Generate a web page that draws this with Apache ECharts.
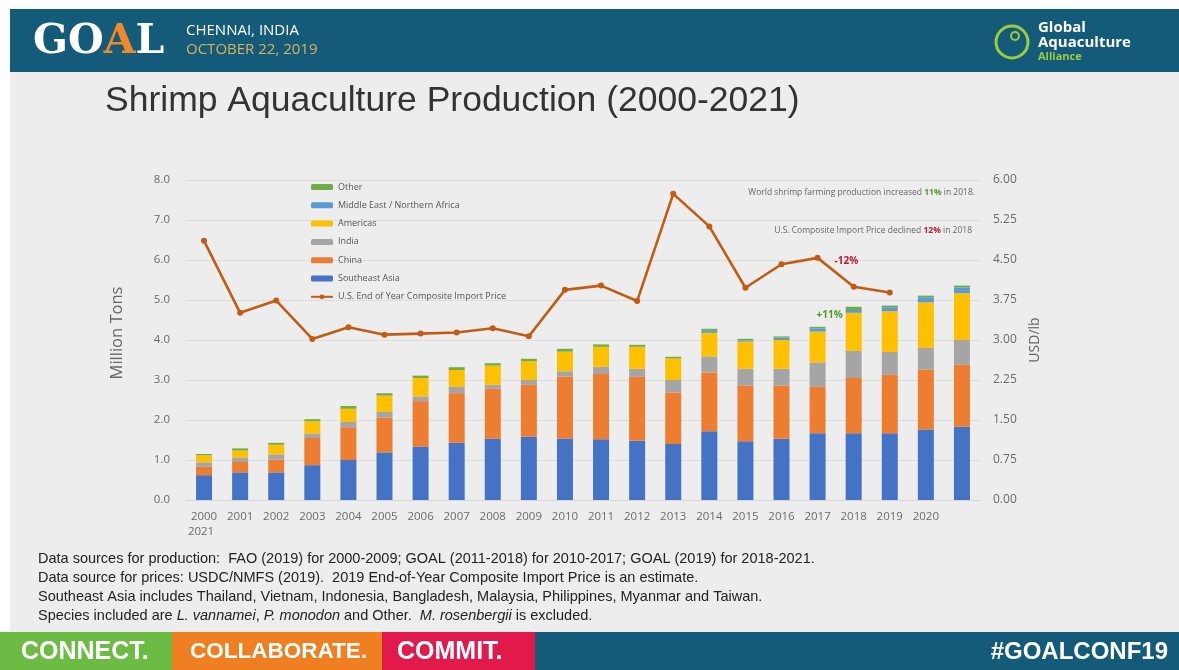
<!DOCTYPE html>
<html>
<head>
<meta charset="utf-8">
<script src="https://cdn.jsdelivr.net/npm/echarts@6/dist/echarts.min.js"></script>
<style>
html,body{margin:0;padding:0;background:#fff;}
#c{width:1179px;height:670px;}
</style>
</head>
<body>
<div id="c"></div>
<script>
// ---- data ----
const years = ['2000','2001','2002','2003','2004','2005','2006','2007','2008','2009','2010','2011','2012','2013','2014','2015','2016','2017','2018','2019','2020','2021'];
const southeastAsia = [0.62,0.69,0.69,0.87,1.00,1.19,1.33,1.43,1.53,1.58,1.54,1.52,1.48,1.40,1.72,1.47,1.53,1.67,1.67,1.67,1.76,1.83];
const china         = [0.21,0.26,0.32,0.68,0.82,0.87,1.14,1.24,1.25,1.30,1.55,1.63,1.60,1.29,1.47,1.39,1.33,1.16,1.38,1.46,1.50,1.55];
const india         = [0.11,0.11,0.13,0.11,0.13,0.14,0.12,0.16,0.10,0.12,0.13,0.18,0.20,0.31,0.40,0.42,0.42,0.61,0.68,0.57,0.54,0.62];
const americas      = [0.18,0.18,0.24,0.31,0.33,0.41,0.46,0.42,0.48,0.47,0.49,0.50,0.55,0.54,0.59,0.68,0.72,0.77,0.95,1.02,1.14,1.17];
const middleEast    = [0,0,0,0,0,0,0,0,0,0,0,0,0,0,0.05,0.03,0.06,0.08,0.07,0.10,0.13,0.14];
const other         = [0.03,0.05,0.05,0.05,0.07,0.06,0.06,0.07,0.06,0.06,0.07,0.06,0.05,0.04,0.05,0.04,0.03,0.04,0.08,0.04,0.04,0.05];
const importPrice   = [4.86,3.51,3.74,3.02,3.24,3.10,3.12,3.14,3.22,3.07,3.94,4.02,3.73,5.74,5.13,3.98,4.42,4.54,4.00,3.89,null,null];
const leftTicks = {min:0, max:8, interval:1};
const rightTicks = {min:0, max:6, interval:0.75};
const footnotes = [
  '{n|Data sources for production:  FAO (2019) for 2000-2009; GOAL (2011-2018) for 2010-2017; GOAL (2019) for 2018-2021.}',
  '{n|Data source for prices: USDC/NMFS (2019).  2019 End-of-Year Composite Import Price is an estimate.}',
  '{n|Southeast Asia includes Thailand, Vietnam, Indonesia, Bangladesh, Malaysia, Philippines, Myanmar and Taiwan.}',
  '{n|Species included are }{i|L. vannamei}{n|, }{i|P. monodon}{n| and Other.  }{i|M. rosenbergii}{n| is excluded.}'
];

const FONT = "'Open Sans', 'Liberation Sans', sans-serif";
const SANS = "'Liberation Sans', sans-serif";
const tickColor = '#6a6a6a';

const chart = echarts.init(document.getElementById('c'), null, {renderer:'canvas'});

function barSeries(name, data, color){
  return {name, type:'bar', stack:'prod', data, barWidth:16, itemStyle:{color}, emphasis:{disabled:true}, animation:false};
}

const option = {
  animation:false,
  backgroundColor:'#ffffff',
  textStyle:{fontFamily:FONT},
  grid:{left:186, right:199, top:180, bottom:170, containLabel:false},
  legend:{
    left:305, top:177, orient:'vertical', itemGap:8.3, itemWidth:22, itemHeight:6,
    textStyle:{fontSize:9, color:'#555', lineHeight:10, fontFamily:FONT},
    data:['Other','Middle East / Northern Africa','Americas','India','China','Southeast Asia','U.S. End of Year Composite Import Price']
  },
  xAxis:{
    type:'category', data:years,
    axisLine:{show:true, lineStyle:{color:'#d6d6d6'}}, axisTick:{show:false},
    axisLabel:{color:tickColor, fontSize:11.5, margin:9, lineHeight:15, interval:0,
      formatter:(v)=> v==='2000' ? '2000\n{l|2021}' : (v==='2021' ? '' : v),
      rich:{l:{color:tickColor, fontSize:11.5, align:'left', padding:[0,0,0,-3]}}}
  },
  yAxis:[
    {type:'value', min:leftTicks.min, max:leftTicks.max, interval:leftTicks.interval,
     name:'Million Tons', nameLocation:'middle', nameRotate:90, nameGap:60,
     nameTextStyle:{fontSize:16.5, color:'#666', padding:[0,0,0,14]},
     axisLabel:{color:tickColor, fontSize:11.5, margin:16, formatter:(v)=>v.toFixed(1)},
     splitLine:{lineStyle:{color:'#dcdcdc'}}, axisLine:{show:false}, axisTick:{show:false}},
    {type:'value', min:rightTicks.min, max:rightTicks.max, interval:rightTicks.interval,
     name:'USD/lb', nameLocation:'middle', nameRotate:90, nameGap:46,
     nameTextStyle:{fontSize:14, color:'#666'},
     axisLabel:{color:tickColor, fontSize:12, margin:13, formatter:(v)=>v.toFixed(2)},
     splitLine:{show:false}, axisLine:{show:false}, axisTick:{show:false}}
  ],
  series:[
    barSeries('Southeast Asia', southeastAsia, '#4472c4'),
    barSeries('China', china, '#ed7d31'),
    barSeries('India', india, '#a5a5a5'),
    barSeries('Americas', americas, '#ffc000'),
    barSeries('Middle East / Northern Africa', middleEast, '#5b9bd5'),
    barSeries('Other', other, '#70ad47'),
    {name:'U.S. End of Year Composite Import Price', type:'line', yAxisIndex:1, data:importPrice,
     symbol:'circle', symbolSize:6, connectNulls:false,
     lineStyle:{color:'#c55a11', width:2.6}, itemStyle:{color:'#c55a11'}, z:5}
  ]
};
chart.setOption(option);

// ---- decorations (slide frame, header, footer, notes) ----
const totals = years.map((_,i)=> southeastAsia[i]+china[i]+india[i]+americas[i]+middleEast[i]+other[i]);
const p2018 = chart.convertToPixel({xAxisIndex:0, yAxisIndex:0}, ['2018', totals[18]]);
const p2017 = chart.convertToPixel({xAxisIndex:0, yAxisIndex:1}, ['2017', importPrice[17]]);

const gfx = [
  {type:'rect', shape:{x:10,y:9,width:1169,height:661}, style:{fill:'#ededed'}, z:-10, silent:true},
  {type:'rect', shape:{x:10,y:9,width:1169,height:63}, style:{fill:'#135b79'}, z:-5},
  // GOAL logo text
  {type:'text', x:33, y:42, style:{text:'{w|GO}{a|A}{w|L}', verticalAlign:'middle',
    rich:{w:{fontSize:41, fontWeight:'bold', fill:'#ffffff', fontFamily:"'DejaVu Serif', serif"},
          a:{fontSize:41, fontWeight:'bold', fill:'#f0892b', fontFamily:"'DejaVu Serif', serif"}}}},
  {type:'text', x:186, y:31, style:{text:'CHENNAI, INDIA', fill:'#ffffff', fontSize:15, fontFamily:FONT, verticalAlign:'middle'}},
  {type:'text', x:186, y:50, style:{text:'OCTOBER 22, 2019', fill:'#d9b45c', fontSize:15, fontFamily:FONT, verticalAlign:'middle'}},
  // GAA logo
  {type:'circle', shape:{cx:1012, cy:42, r:16}, style:{fill:'none', stroke:'#9ccd3c', lineWidth:3}},
  {type:'circle', shape:{cx:1015, cy:36, r:4}, style:{fill:'none', stroke:'#9ccd3c', lineWidth:2}},
  {type:'text', x:1038, y:28, style:{text:'Global', fill:'#ffffff', fontSize:15, fontWeight:'bold', fontFamily:FONT, verticalAlign:'middle'}},
  {type:'text', x:1038, y:43, style:{text:'Aquaculture', fill:'#ffffff', fontSize:15, fontWeight:'bold', fontFamily:FONT, verticalAlign:'middle'}},
  {type:'text', x:1038, y:57, style:{text:'Alliance', fill:'#9ccd3c', fontSize:11, fontWeight:'bold', fontFamily:FONT, verticalAlign:'middle'}},
  // title
  {type:'text', x:105, y:101, style:{text:'Shrimp Aquaculture Production (2000-2021)', fill:'#333333', fontSize:35.5, fontFamily:SANS, verticalAlign:'middle'}},
  // annotations
  {type:'text', x:975, y:193, style:{text:'{n|World shrimp farming production increased }{g|11%}{n| in 2018.}', align:'right', verticalAlign:'middle',
    rich:{n:{fontSize:8.5, fill:'#666', fontFamily:FONT}, g:{fontSize:8.5, fill:'#4e9a2a', fontWeight:'bold', fontFamily:FONT}}}},
  {type:'text', x:972, y:231, style:{text:'{n|U.S. Composite Import Price declined }{r|12%}{n| in 2018}', align:'right', verticalAlign:'middle',
    rich:{n:{fontSize:8.5, fill:'#666', fontFamily:FONT}, r:{fontSize:8.5, fill:'#c0182b', fontWeight:'bold', fontFamily:FONT}}}},
  {type:'text', x:p2017[0]+17, y:p2017[1]+3, style:{text:'-12%', fill:'#c0182b', fontSize:10, fontWeight:'bold', fontFamily:FONT, verticalAlign:'middle'}},
  {type:'text', x:p2018[0]-11, y:p2018[1]+8, style:{text:'+11%', fill:'#4e9a2a', fontSize:10, fontWeight:'bold', fontFamily:FONT, align:'right', verticalAlign:'middle'}},
  // footer bars
  {type:'rect', shape:{x:0,y:632,width:172,height:38}, style:{fill:'#6cbb45'}},
  {type:'rect', shape:{x:172,y:632,width:210,height:38}, style:{fill:'#f07f22'}},
  {type:'rect', shape:{x:382,y:632,width:153,height:38}, style:{fill:'#e2194b'}},
  {type:'rect', shape:{x:535,y:632,width:644,height:38}, style:{fill:'#135b79'}},
  {type:'text', x:21, y:652, style:{text:'CONNECT.', fill:'#fff', fontSize:25, fontWeight:'bold', fontFamily:SANS, verticalAlign:'middle'}},
  {type:'text', x:190, y:652, style:{text:'COLLABORATE.', fill:'#fff', fontSize:22.5, fontWeight:'bold', fontFamily:SANS, verticalAlign:'middle'}},
  {type:'text', x:397, y:652, style:{text:'COMMIT.', fill:'#fff', fontSize:25, fontWeight:'bold', fontFamily:SANS, verticalAlign:'middle'}},
  {type:'text', x:1168, y:652, style:{text:'#GOALCONF19', fill:'#fff', fontSize:24, fontWeight:'bold', fontFamily:SANS, align:'right', verticalAlign:'middle'}}
];
footnotes.forEach((t,i)=>{
  gfx.push({type:'text', x:38, y:559+i*19, style:{text:t, verticalAlign:'middle',
    rich:{n:{fontSize:14.5, fill:'#222', fontFamily:SANS}, i:{fontSize:14.5, fill:'#222', fontStyle:'italic', fontFamily:SANS}}}});
});
chart.setOption({graphic:gfx});
</script>
</body>
</html>
